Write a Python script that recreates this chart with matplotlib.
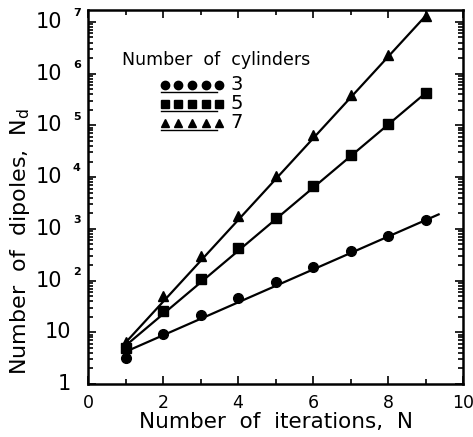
import numpy as np
import matplotlib.pyplot as plt
import matplotlib.transforms as mtransforms
from matplotlib.ticker import FixedLocator, LogLocator, NullFormatter

plt.rcParams['font.family'] = ['DejaVu Sans']
plt.rcParams['mathtext.fontset'] = 'dejavusans'

# iterations
iters = [1, 2, 3, 4, 5, 6, 7, 8, 9]
# number of dipoles for 3, 5, 7 cylinders
dip3 = [3.2, 9.2, 22, 45, 92, 185, 370, 740, 1450]
dip5 = [5.0, 26, 105, 420, 1650, 6600, 27000, 105000, 420000]
dip7 = [6.5, 50, 300, 1800, 10500, 65000, 380000, 2300000, 13000000]

# fitted straight lines (end points)
fit3_n = [1, 9.35]
fit3_v = [4.2, 1900]
fit5_n = [1, 9]
fit5_v = [5.5, 420000]
fit7_n = [1, 9]
fit7_v = [6.3, 13000000]

ytick_vals = [1, 10, 1e2, 1e3, 1e4, 1e5, 1e6, 1e7]
ytick_txt = ['1', '10', '10', '10', '10', '10', '10', '10']
ytick_exp = ['', '', '2', '3', '4', '5', '6', '7']

fig = plt.figure(figsize=(4.73, 4.37), dpi=100)
ax = fig.add_axes([88 / 473, 1 - 384 / 437, 375 / 473, 374 / 437])

lw = 1.6
ax.plot(fit3_n, fit3_v, color='k', lw=lw)
ax.plot(fit5_n, fit5_v, color='k', lw=lw)
ax.plot(fit7_n, fit7_v, color='k', lw=lw)
ax.plot(iters, dip3, 'o', color='k', ms=7)
ax.plot(iters, dip5, 's', color='k', ms=6.5)
ax.plot(iters, dip7, '^', color='k', ms=7)

ax.set_yscale('log')
ax.set_xlim(0, 10)
ax.set_ylim(1, 1.7e7)

ax.set_xticks([0, 2, 4, 6, 8, 10])
ax.xaxis.set_minor_locator(FixedLocator([1, 3, 5, 7, 9]))
ax.set_yticks(ytick_vals)
ax.set_yticklabels([])
ax.yaxis.set_minor_locator(LogLocator(base=10, subs=np.arange(2, 10)))
ax.yaxis.set_minor_formatter(NullFormatter())

ax.tick_params(which='both', direction='in', top=True, right=True, width=1.2)
ax.tick_params(which='major', length=6)
ax.tick_params(which='minor', length=3.5)
ax.tick_params(axis='x', labelsize=12.5, pad=7)
for s in ax.spines.values():
    s.set_linewidth(1.8)

# y tick labels: "10" with a small exponent set apart
btr = mtransforms.blended_transform_factory(ax.transAxes, ax.transData)
for v, t, e in zip(ytick_vals, ytick_txt, ytick_exp):
    if e:
        ax.text(-0.068, v, t, transform=btr, fontsize=15, ha='right', va='center')
        ax.text(-0.03, v * 10 ** 0.17, e, transform=btr, fontsize=8,
                fontweight='bold', ha='center', va='center')
    else:
        ax.text(-0.045, v, t, transform=btr, fontsize=15, ha='right', va='center')

ax.set_xlabel('Number  of  iterations,  N', fontsize=15.5, labelpad=0)
ax.set_ylabel(r'Number  of  dipoles,  N$_{\mathrm{d}}$', fontsize=16)
ax.yaxis.set_label_coords(-0.15, 0.38)

# hand-made legend
tr = ax.transAxes
ax.text(0.09, 0.866, 'Number  of  cylinders', transform=tr, fontsize=12.5, va='center')
rows = [(0.80, 'o', '3', 6), (0.749, 's', '5', 5.5), (0.698, '^', '7', 6)]
mx = np.linspace(0.205, 0.35, 5)
for yy, mk, lab, msz in rows:
    ax.plot(mx, [yy] * 5, mk, color='k', ms=msz, transform=tr, clip_on=False)
    ax.plot([0.195, 0.345], [yy - 0.02, yy - 0.02], color='k', lw=1, transform=tr)
    ax.text(0.38, yy, lab, transform=tr, fontsize=14, va='center')

fig.savefig('out.png', dpi=100)
